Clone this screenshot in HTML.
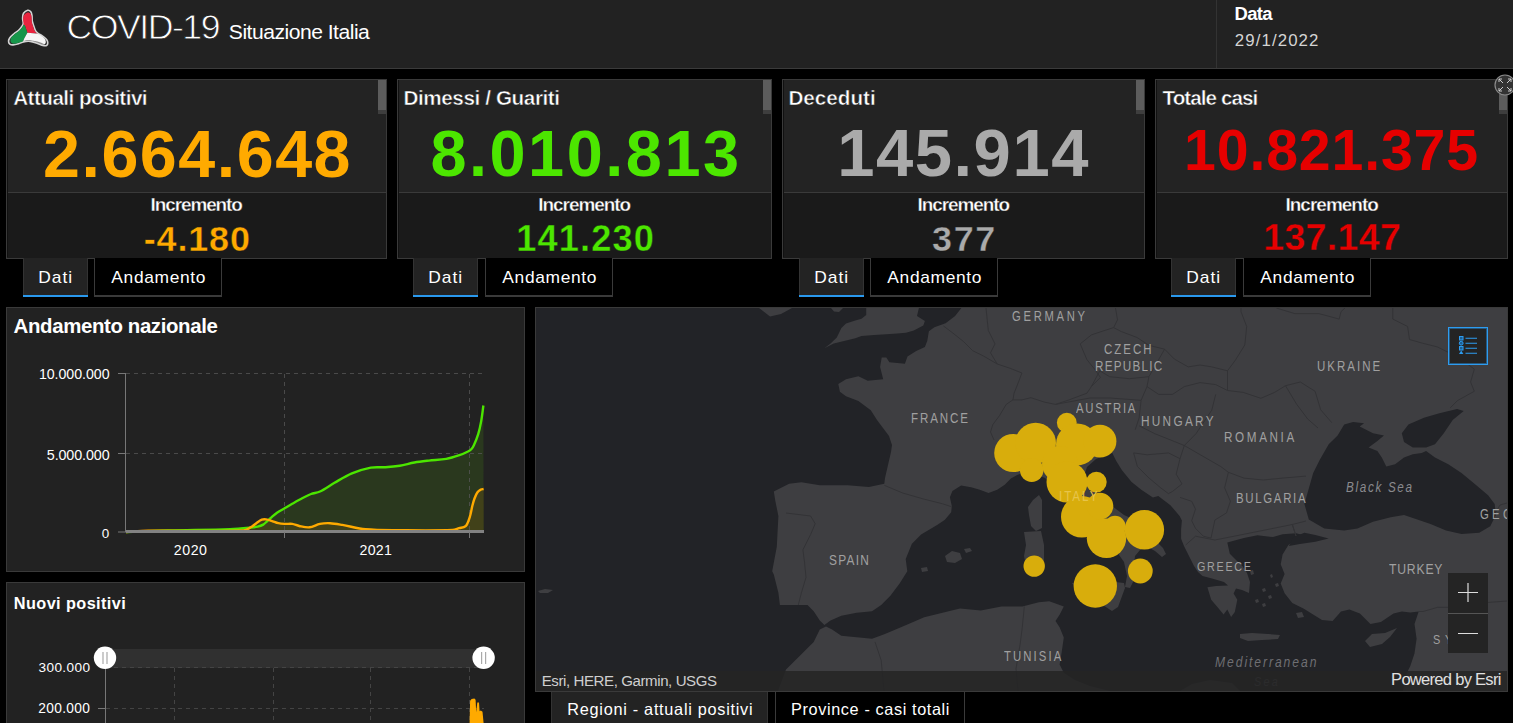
<!DOCTYPE html>
<html><head><meta charset="utf-8"><title>COVID-19 Situazione Italia</title>
<style>
html,body{margin:0;padding:0;background:#000;width:1513px;height:723px;overflow:hidden;font-family:"Liberation Sans",sans-serif}
.t{position:absolute;white-space:nowrap;font-family:"Liberation Sans",sans-serif}
svg{display:block}
</style></head><body>
<div style="position:absolute;left:0;top:0;width:1513px;height:68px;background:#222"></div>
<div style="position:absolute;left:0;top:68px;width:1513px;height:1px;background:#3b3b3b"></div>
<div style="position:absolute;left:1216px;top:0;width:1px;height:68px;background:#333"></div>
<svg style="position:absolute;left:0;top:0" width="60" height="60" viewBox="0 0 60 60">
<defs><clipPath id="lc"><path d="M27.70,10.30 C26.48,10.55 24.35,11.98 23.50,13.30 C22.65,14.62 22.65,16.48 22.60,18.20 C22.55,19.92 23.37,22.18 23.20,23.60 C23.03,25.02 22.37,25.58 21.60,26.70 C20.83,27.82 19.92,29.08 18.60,30.30 C17.28,31.52 15.22,32.68 13.70,34.00 C12.18,35.32 10.35,36.88 9.50,38.20 C8.65,39.52 8.50,40.88 8.60,41.90 C8.70,42.92 9.35,43.80 10.10,44.30 C10.85,44.80 11.68,45.00 13.10,44.90 C14.52,44.80 16.87,44.20 18.60,43.70 C20.33,43.20 21.88,42.30 23.50,41.90 C25.12,41.50 26.78,41.30 28.30,41.30 C29.82,41.30 30.97,41.50 32.60,41.90 C34.23,42.30 36.38,43.10 38.10,43.70 C39.82,44.30 41.48,45.20 42.90,45.50 C44.32,45.80 45.78,45.90 46.60,45.50 C47.42,45.10 47.80,44.10 47.80,43.10 C47.80,42.10 47.52,40.72 46.60,39.50 C45.68,38.28 43.72,36.82 42.30,35.80 C40.88,34.78 39.22,34.22 38.10,33.40 C36.98,32.58 36.32,32.12 35.60,30.90 C34.88,29.68 34.35,27.72 33.80,26.10 C33.25,24.48 32.60,22.93 32.30,21.20 C32.00,19.47 32.25,17.27 32.00,15.70 C31.75,14.13 31.52,12.70 30.80,11.80 C30.08,10.90 28.92,10.05 27.70,10.30Z" transform="translate(27.8,32) scale(0.9) translate(-27.8,-32)"/></clipPath></defs>
<path d="M27.70,10.30 C26.48,10.55 24.35,11.98 23.50,13.30 C22.65,14.62 22.65,16.48 22.60,18.20 C22.55,19.92 23.37,22.18 23.20,23.60 C23.03,25.02 22.37,25.58 21.60,26.70 C20.83,27.82 19.92,29.08 18.60,30.30 C17.28,31.52 15.22,32.68 13.70,34.00 C12.18,35.32 10.35,36.88 9.50,38.20 C8.65,39.52 8.50,40.88 8.60,41.90 C8.70,42.92 9.35,43.80 10.10,44.30 C10.85,44.80 11.68,45.00 13.10,44.90 C14.52,44.80 16.87,44.20 18.60,43.70 C20.33,43.20 21.88,42.30 23.50,41.90 C25.12,41.50 26.78,41.30 28.30,41.30 C29.82,41.30 30.97,41.50 32.60,41.90 C34.23,42.30 36.38,43.10 38.10,43.70 C39.82,44.30 41.48,45.20 42.90,45.50 C44.32,45.80 45.78,45.90 46.60,45.50 C47.42,45.10 47.80,44.10 47.80,43.10 C47.80,42.10 47.52,40.72 46.60,39.50 C45.68,38.28 43.72,36.82 42.30,35.80 C40.88,34.78 39.22,34.22 38.10,33.40 C36.98,32.58 36.32,32.12 35.60,30.90 C34.88,29.68 34.35,27.72 33.80,26.10 C33.25,24.48 32.60,22.93 32.30,21.20 C32.00,19.47 32.25,17.27 32.00,15.70 C31.75,14.13 31.52,12.70 30.80,11.80 C30.08,10.90 28.92,10.05 27.70,10.30Z" fill="#2b2b2b" stroke="#d4d4d4" stroke-width="1.6"/>
<g clip-path="url(#lc)">
<path d="M24.7,24.9 L27.4,32.8 L35.9,33.4 L50,33.4 L50,0 L0,0 L0,22 Z" fill="#e8243f"/>
<path d="M24.7,24.9 L27.4,32.8 L24.1,38.8 L20,50 L0,50 L0,22 Z" fill="#16964a"/>
<path d="M27.4,32.8 L35.9,33.4 L50,33.4 L50,50 L20,50 L24.1,38.8 Z" fill="#f6f6f6"/>
<path d="M29,40.2 C35,40.5 40,42 45,44.5 C40,44.5 35,42.5 29,41.5Z" fill="#8a8a8a"/>
</g>
</svg>
<div class="t" style="left:66.6px;top:5.9px;font-size:35.66px;line-height:43px;letter-spacing:-1.51px;font-weight:normal;color:#fff;-webkit-text-stroke:0.8px #222">COVID-19</div>
<div class="t" style="left:228.8px;top:19.2px;font-size:21.11px;line-height:25px;letter-spacing:-0.5px;font-weight:normal;font-style:normal;color:#fff;">Situazione Italia</div>
<div class="t" style="left:1234.5px;top:3.4px;font-size:18.46px;line-height:22px;letter-spacing:-0.66px;font-weight:bold;font-style:normal;color:#fff;">Data</div>
<div class="t" style="left:1234.7px;top:31.2px;font-size:16.84px;line-height:20px;letter-spacing:1.11px;font-weight:normal;font-style:normal;color:#d4d4d4;">29/1/2022</div>
<div style="position:absolute;left:6px;top:79px;width:379px;height:178px;border:1px solid #3a3a3a;background:#1a1a1a"></div>
<div style="position:absolute;left:7px;top:80px;width:379px;height:112px;background:#232323"></div>
<div style="position:absolute;left:6px;top:192px;width:381px;height:1px;background:#3a3a3a"></div>
<div style="position:absolute;left:7px;top:80px;width:1px;height:177px;background:#111"></div>
<div style="position:absolute;left:378px;top:80px;width:8px;height:30px;background:#5c5c5c"></div>
<div style="position:absolute;left:378px;top:110px;width:8px;height:4px;background:#3e3e3e"></div>
<div class="t" style="left:13.2px;top:85.4px;font-size:20.7px;line-height:25px;letter-spacing:-0.54px;font-weight:bold;color:#fff;-webkit-text-stroke:0.5px #232323">Attuali positivi</div>
<div class="t" style="left:43.0px;top:113.7px;font-size:66.45px;line-height:80px;letter-spacing:1.5px;font-weight:bold;font-style:normal;color:#ffaa00;">2.664.648</div>
<div class="t" style="left:150.6px;top:193.0px;font-size:18.97px;line-height:23px;letter-spacing:-1.1px;font-weight:bold;color:#fff;-webkit-text-stroke:0.35px #1a1a1a">Incremento</div>
<div class="t" style="left:143.8px;top:216.8px;font-size:35.95px;line-height:43px;letter-spacing:0.85px;font-weight:bold;color:#ffaa00;-webkit-text-stroke:0.4px #1a1a1a">-4.180</div>
<div style="position:absolute;left:23px;top:258px;width:63px;height:37px;background:#232323;border-left:1px solid #333;border-right:1px solid #333"></div>
<div style="position:absolute;left:23px;top:295px;width:65px;height:2px;background:#2a99ee"></div>
<div style="position:absolute;left:94px;top:258px;width:126px;height:37px;background:#000;border:1px solid #3a3a3a;border-top:0;border-bottom:2px solid #3a3a3a"></div>
<div class="t" style="left:38.3px;top:267.1px;font-size:17.39px;line-height:21px;letter-spacing:0.99px;font-weight:normal;font-style:normal;color:#fff;">Dati</div>
<div class="t" style="left:111.3px;top:267.1px;font-size:17.39px;line-height:21px;letter-spacing:0.67px;font-weight:normal;font-style:normal;color:#fff;">Andamento</div>
<div style="position:absolute;left:397px;top:79px;width:373px;height:178px;border:1px solid #3a3a3a;background:#1a1a1a"></div>
<div style="position:absolute;left:398px;top:80px;width:373px;height:112px;background:#232323"></div>
<div style="position:absolute;left:397px;top:192px;width:375px;height:1px;background:#3a3a3a"></div>
<div style="position:absolute;left:398px;top:80px;width:1px;height:177px;background:#111"></div>
<div style="position:absolute;left:763px;top:80px;width:8px;height:30px;background:#5c5c5c"></div>
<div style="position:absolute;left:763px;top:110px;width:8px;height:4px;background:#3e3e3e"></div>
<div class="t" style="left:403.4px;top:85.4px;font-size:20.7px;line-height:25px;letter-spacing:-0.41px;font-weight:bold;color:#fff;-webkit-text-stroke:0.5px #232323">Dimessi / Guariti</div>
<div class="t" style="left:430.4px;top:114.5px;font-size:64.88px;line-height:78px;letter-spacing:2.52px;font-weight:bold;font-style:normal;color:#4ce600;">8.010.813</div>
<div class="t" style="left:538.3px;top:193.0px;font-size:18.97px;line-height:23px;letter-spacing:-1.04px;font-weight:bold;color:#fff;-webkit-text-stroke:0.35px #1a1a1a">Incremento</div>
<div class="t" style="left:516.2px;top:216.7px;font-size:36.23px;line-height:43px;letter-spacing:1.13px;font-weight:bold;color:#4ce600;-webkit-text-stroke:0.4px #1a1a1a">141.230</div>
<div style="position:absolute;left:413px;top:258px;width:63px;height:37px;background:#232323;border-left:1px solid #333;border-right:1px solid #333"></div>
<div style="position:absolute;left:413px;top:295px;width:65px;height:2px;background:#2a99ee"></div>
<div style="position:absolute;left:485px;top:258px;width:126px;height:37px;background:#000;border:1px solid #3a3a3a;border-top:0;border-bottom:2px solid #3a3a3a"></div>
<div class="t" style="left:428.3px;top:267.1px;font-size:17.39px;line-height:21px;letter-spacing:0.99px;font-weight:normal;font-style:normal;color:#fff;">Dati</div>
<div class="t" style="left:502.3px;top:267.1px;font-size:17.39px;line-height:21px;letter-spacing:0.67px;font-weight:normal;font-style:normal;color:#fff;">Andamento</div>
<div style="position:absolute;left:782px;top:79px;width:361px;height:178px;border:1px solid #3a3a3a;background:#1a1a1a"></div>
<div style="position:absolute;left:783px;top:80px;width:361px;height:112px;background:#232323"></div>
<div style="position:absolute;left:782px;top:192px;width:363px;height:1px;background:#3a3a3a"></div>
<div style="position:absolute;left:783px;top:80px;width:1px;height:177px;background:#111"></div>
<div style="position:absolute;left:1136px;top:80px;width:8px;height:30px;background:#5c5c5c"></div>
<div style="position:absolute;left:1136px;top:110px;width:8px;height:4px;background:#3e3e3e"></div>
<div class="t" style="left:788.4px;top:85.4px;font-size:20.7px;line-height:25px;letter-spacing:0.0px;font-weight:bold;color:#fff;-webkit-text-stroke:0.5px #232323">Deceduti</div>
<div class="t" style="left:837.2px;top:113.4px;font-size:67.03px;line-height:80px;letter-spacing:1.5px;font-weight:bold;font-style:normal;color:#aaaaaa;">145.914</div>
<div class="t" style="left:917.6px;top:193.0px;font-size:18.97px;line-height:23px;letter-spacing:-1.08px;font-weight:bold;color:#fff;-webkit-text-stroke:0.35px #1a1a1a">Incremento</div>
<div class="t" style="left:932.1px;top:216.6px;font-size:35.95px;line-height:43px;letter-spacing:1.56px;font-weight:bold;color:#aaaaaa;-webkit-text-stroke:0.4px #1a1a1a">377</div>
<div style="position:absolute;left:799px;top:258px;width:63px;height:37px;background:#232323;border-left:1px solid #333;border-right:1px solid #333"></div>
<div style="position:absolute;left:799px;top:295px;width:65px;height:2px;background:#2a99ee"></div>
<div style="position:absolute;left:870px;top:258px;width:126px;height:37px;background:#000;border:1px solid #3a3a3a;border-top:0;border-bottom:2px solid #3a3a3a"></div>
<div class="t" style="left:814.3px;top:267.1px;font-size:17.39px;line-height:21px;letter-spacing:0.99px;font-weight:normal;font-style:normal;color:#fff;">Dati</div>
<div class="t" style="left:887.3px;top:267.1px;font-size:17.39px;line-height:21px;letter-spacing:0.67px;font-weight:normal;font-style:normal;color:#fff;">Andamento</div>
<div style="position:absolute;left:1155px;top:79px;width:351px;height:178px;border:1px solid #3a3a3a;background:#1a1a1a"></div>
<div style="position:absolute;left:1156px;top:80px;width:351px;height:112px;background:#232323"></div>
<div style="position:absolute;left:1155px;top:192px;width:353px;height:1px;background:#3a3a3a"></div>
<div style="position:absolute;left:1156px;top:80px;width:1px;height:177px;background:#111"></div>
<div style="position:absolute;left:1499px;top:80px;width:8px;height:30px;background:#5c5c5c"></div>
<div style="position:absolute;left:1499px;top:110px;width:8px;height:4px;background:#3e3e3e"></div>
<div class="t" style="left:1162.5px;top:85.4px;font-size:20.7px;line-height:25px;letter-spacing:-0.96px;font-weight:bold;color:#fff;-webkit-text-stroke:0.5px #232323">Totale casi</div>
<div class="t" style="left:1184.1px;top:115.6px;font-size:57.29px;line-height:69px;letter-spacing:0.81px;font-weight:bold;font-style:normal;color:#e60000;">10.821.375</div>
<div class="t" style="left:1285.4px;top:193.0px;font-size:18.97px;line-height:23px;letter-spacing:-0.96px;font-weight:bold;color:#fff;-webkit-text-stroke:0.35px #1a1a1a">Incremento</div>
<div class="t" style="left:1263.2px;top:215.4px;font-size:37.52px;line-height:45px;letter-spacing:0.33px;font-weight:bold;color:#e60000;-webkit-text-stroke:0.4px #1a1a1a">137.147</div>
<div style="position:absolute;left:1171px;top:258px;width:63px;height:37px;background:#232323;border-left:1px solid #333;border-right:1px solid #333"></div>
<div style="position:absolute;left:1171px;top:295px;width:65px;height:2px;background:#2a99ee"></div>
<div style="position:absolute;left:1243px;top:258px;width:126px;height:37px;background:#000;border:1px solid #3a3a3a;border-top:0;border-bottom:2px solid #3a3a3a"></div>
<div class="t" style="left:1186.3px;top:267.1px;font-size:17.39px;line-height:21px;letter-spacing:0.99px;font-weight:normal;font-style:normal;color:#fff;">Dati</div>
<div class="t" style="left:1260.3px;top:267.1px;font-size:17.39px;line-height:21px;letter-spacing:0.67px;font-weight:normal;font-style:normal;color:#fff;">Andamento</div>
<svg style="position:absolute;left:1494px;top:74px" width="22" height="22" viewBox="0 0 22 22">
<circle cx="11" cy="11" r="10" fill="#333" stroke="#8a8a8a" stroke-width="1.2"/>
<g stroke="#ccc" stroke-width="1" fill="none">
<path d="M5,5 L9,9 M5,5 L5,8 M5,5 L8,5"/>
<path d="M17,5 L13,9 M17,5 L17,8 M17,5 L14,5"/>
<path d="M5,17 L9,13 M5,17 L5,14 M5,17 L8,17"/>
<path d="M17,17 L13,13 M17,17 L17,14 M17,17 L14,17"/>
</g></svg>
<div style="position:absolute;left:6px;top:307px;width:517px;height:263px;border:1px solid #3a3a3a;background:#222"></div>
<div class="t" style="left:13.6px;top:314.2px;font-size:20.42px;line-height:25px;letter-spacing:-0.37px;font-weight:bold;font-style:normal;color:#fff;">Andamento nazionale</div>
<div class="t" style="left:38.9px;top:366.0px;font-size:14.18px;line-height:17px;letter-spacing:-0.03px;font-weight:normal;font-style:normal;color:#ffffff;">10.000.000</div>
<div class="t" style="left:46.8px;top:446.5px;font-size:14.32px;line-height:17px;letter-spacing:-0.11px;font-weight:normal;font-style:normal;color:#ffffff;">5.000.000</div>
<div class="t" style="left:101.7px;top:525.9px;font-size:13.46px;line-height:16px;letter-spacing:0px;font-weight:normal;font-style:normal;color:#ffffff;">0</div>
<div class="t" style="left:173.8px;top:541.7px;font-size:14.18px;line-height:17px;letter-spacing:0.54px;font-weight:normal;font-style:normal;color:#ffffff;">2020</div>
<div class="t" style="left:359.6px;top:541.7px;font-size:14.18px;line-height:17px;letter-spacing:0.22px;font-weight:normal;font-style:normal;color:#ffffff;">2021</div>
<svg style="position:absolute;left:0;top:0" width="530" height="723" viewBox="0 0 530 723">
<path d="M126.00,532.00 C140.00,531.50 154.00,530.89 168.00,530.50 C188.67,529.92 209.33,529.81 230.00,529.10 C236.67,528.87 243.33,528.28 250.00,527.70 C252.57,527.48 255.13,527.30 257.70,526.70 C259.53,526.27 261.37,525.67 263.20,524.60 C264.57,523.80 265.93,522.30 267.30,521.10 C268.70,519.87 270.10,518.50 271.50,517.30 C273.33,515.73 275.17,514.07 277.00,512.80 C279.30,511.20 281.60,510.06 283.90,508.70 C286.67,507.06 289.43,505.38 292.20,503.80 C295.67,501.82 299.13,499.81 302.60,498.00 C305.40,496.54 308.20,495.05 311.00,494.00 C314.00,492.88 317.00,492.93 320.00,491.50 C324.83,489.20 329.67,485.54 334.50,482.80 C340.30,479.51 346.10,475.83 351.90,473.40 C358.20,470.76 364.50,468.77 370.80,467.60 C375.63,466.70 380.47,467.52 385.30,467.20 C390.13,466.88 394.97,466.48 399.80,465.70 C404.67,464.91 409.53,463.35 414.40,462.50 C419.23,461.65 424.07,461.15 428.90,460.60 C434.70,459.95 440.50,459.93 446.30,458.90 C450.67,458.13 455.03,456.69 459.40,455.20 C462.27,454.22 465.13,452.97 468.00,451.50 C469.17,450.90 470.33,450.26 471.50,449.00 C472.33,448.10 473.17,446.84 474.00,445.00 C475.40,441.91 476.80,438.85 478.20,434.20 C479.20,430.88 480.20,426.62 481.20,421.10 C481.93,417.05 482.67,410.70 483.40,405.50 L483.6,532 L126,532 Z" fill="#2b3a1f" fill-opacity="0.95"/>
<path d="M126.00,532.00 C133.23,531.60 140.47,530.89 147.70,530.80 C179.73,530.39 211.77,531.59 243.80,530.50 C246.10,530.42 248.40,528.64 250.70,527.30 C252.57,526.21 254.43,524.48 256.30,523.20 C258.13,521.94 259.97,520.42 261.80,519.70 C263.20,519.15 264.60,519.24 266.00,519.40 C267.83,519.61 269.67,520.24 271.50,520.80 C273.80,521.50 276.10,522.68 278.40,523.20 C280.70,523.72 283.00,523.78 285.30,523.90 C287.60,524.02 289.90,523.55 292.20,523.90 C294.53,524.25 296.87,525.54 299.20,526.00 C302.63,526.67 306.07,527.65 309.50,527.30 C312.97,526.95 316.43,524.59 319.90,523.90 C323.27,523.23 326.63,523.05 330.00,523.20 C334.10,523.38 338.20,524.20 342.30,524.90 C350.03,526.23 357.77,528.59 365.50,529.30 C377.13,530.36 388.77,530.11 400.40,530.20 C417.80,530.34 435.20,530.59 452.60,530.00 C454.73,529.93 456.87,528.85 459.00,528.20 C461.27,527.51 463.53,527.85 465.80,526.00 C466.77,525.21 467.73,522.72 468.70,520.30 C469.33,518.72 469.97,516.52 470.60,514.00 C471.17,511.75 471.73,508.25 472.30,506.00 C473.03,503.09 473.77,500.43 474.50,498.50 C475.50,495.87 476.50,493.68 477.50,492.30 C478.67,490.68 479.83,490.13 481.00,489.50 C481.87,489.03 482.73,489.17 483.60,489.00 L483.6,532 L126,532 Z" fill="#4a4418" fill-opacity="0.75"/>
<g stroke="#555" stroke-opacity="0.8" stroke-width="1" stroke-dasharray="4,4" fill="none">
<path d="M126,373.5 H484 M126,453.5 H484 M284.5,374 V530 M469.5,374 V530"/>
</g>
<path d="M126.00,532.00 C140.00,531.50 154.00,530.89 168.00,530.50 C188.67,529.92 209.33,529.81 230.00,529.10 C236.67,528.87 243.33,528.28 250.00,527.70 C252.57,527.48 255.13,527.30 257.70,526.70 C259.53,526.27 261.37,525.67 263.20,524.60 C264.57,523.80 265.93,522.30 267.30,521.10 C268.70,519.87 270.10,518.50 271.50,517.30 C273.33,515.73 275.17,514.07 277.00,512.80 C279.30,511.20 281.60,510.06 283.90,508.70 C286.67,507.06 289.43,505.38 292.20,503.80 C295.67,501.82 299.13,499.81 302.60,498.00 C305.40,496.54 308.20,495.05 311.00,494.00 C314.00,492.88 317.00,492.93 320.00,491.50 C324.83,489.20 329.67,485.54 334.50,482.80 C340.30,479.51 346.10,475.83 351.90,473.40 C358.20,470.76 364.50,468.77 370.80,467.60 C375.63,466.70 380.47,467.52 385.30,467.20 C390.13,466.88 394.97,466.48 399.80,465.70 C404.67,464.91 409.53,463.35 414.40,462.50 C419.23,461.65 424.07,461.15 428.90,460.60 C434.70,459.95 440.50,459.93 446.30,458.90 C450.67,458.13 455.03,456.69 459.40,455.20 C462.27,454.22 465.13,452.97 468.00,451.50 C469.17,450.90 470.33,450.26 471.50,449.00 C472.33,448.10 473.17,446.84 474.00,445.00 C475.40,441.91 476.80,438.85 478.20,434.20 C479.20,430.88 480.20,426.62 481.20,421.10 C481.93,417.05 482.67,410.70 483.40,405.50" stroke="#4ce600" stroke-width="2.4" fill="none"/>
<path d="M126.00,532.00 C133.23,531.60 140.47,530.89 147.70,530.80 C179.73,530.39 211.77,531.59 243.80,530.50 C246.10,530.42 248.40,528.64 250.70,527.30 C252.57,526.21 254.43,524.48 256.30,523.20 C258.13,521.94 259.97,520.42 261.80,519.70 C263.20,519.15 264.60,519.24 266.00,519.40 C267.83,519.61 269.67,520.24 271.50,520.80 C273.80,521.50 276.10,522.68 278.40,523.20 C280.70,523.72 283.00,523.78 285.30,523.90 C287.60,524.02 289.90,523.55 292.20,523.90 C294.53,524.25 296.87,525.54 299.20,526.00 C302.63,526.67 306.07,527.65 309.50,527.30 C312.97,526.95 316.43,524.59 319.90,523.90 C323.27,523.23 326.63,523.05 330.00,523.20 C334.10,523.38 338.20,524.20 342.30,524.90 C350.03,526.23 357.77,528.59 365.50,529.30 C377.13,530.36 388.77,530.11 400.40,530.20 C417.80,530.34 435.20,530.59 452.60,530.00 C454.73,529.93 456.87,528.85 459.00,528.20 C461.27,527.51 463.53,527.85 465.80,526.00 C466.77,525.21 467.73,522.72 468.70,520.30 C469.33,518.72 469.97,516.52 470.60,514.00 C471.17,511.75 471.73,508.25 472.30,506.00 C473.03,503.09 473.77,500.43 474.50,498.50 C475.50,495.87 476.50,493.68 477.50,492.30 C478.67,490.68 479.83,490.13 481.00,489.50 C481.87,489.03 482.73,489.17 483.60,489.00" stroke="#ffaa00" stroke-width="2.4" fill="none"/>
<path d="M126,531.6 H484" stroke="#828282" stroke-width="3"/>
<g stroke="#777" stroke-width="1" fill="none">
<path d="M125.5,373 V532.5 M118,373.5 H125 M118,453.5 H125 M118,532 H125 M284.5,532 V538 M469.5,532 V538"/>
</g>
</svg>
<div style="position:absolute;left:6px;top:582px;width:517px;height:150px;border:1px solid #3a3a3a;background:#222"></div>
<div class="t" style="left:13.8px;top:593.1px;font-size:16.28px;line-height:20px;letter-spacing:0.41px;font-weight:bold;font-style:normal;color:#fff;">Nuovi positivi</div>
<div class="t" style="left:38.5px;top:660.0px;font-size:13.61px;line-height:16px;letter-spacing:0.38px;font-weight:normal;font-style:normal;color:#ffffff;">300.000</div>
<div class="t" style="left:38.3px;top:700.8px;font-size:13.75px;line-height:16px;letter-spacing:0.32px;font-weight:normal;font-style:normal;color:#ffffff;">200.000</div>
<svg style="position:absolute;left:0;top:0" width="530" height="723" viewBox="0 0 530 723">
<rect x="105" y="649" width="378.5" height="19" fill="#303030"/>
<g stroke="#444" stroke-width="1" stroke-dasharray="4,4" fill="none">
<path d="M106,667.5 H484 M106,708.5 H484 M174.5,668 V723 M273.5,668 V723 M370.5,668 V723 M469.5,668 V723"/>
</g>
<path d="M469.6,723 L470.1,700.8 L471.6,699.1 L474.4,698.5 L475.6,699.7 L476.2,712.3 L477.3,702.6 L479,702.6 L479.6,711.2 L480.8,710.6 L482.5,711.7 L483.6,723 Z" fill="#ffaa00"/>
<g stroke="#777" stroke-width="1" fill="none"><path d="M105.5,668 V723 M98,708.5 H105"/></g>
<circle cx="105" cy="657.8" r="11.2" fill="#fff"/>
<circle cx="483.6" cy="657.8" r="11.2" fill="#fff"/>
<g stroke="#aaa" stroke-width="1.2"><path d="M103,652 V664 M107,652 V664 M481.6,652 V664 M485.6,652 V664"/></g>
</svg>
<div style="position:absolute;left:535px;top:307px;width:971px;height:383px;border:1px solid #3a3a3a"></div>
<div style="position:absolute;left:536px;top:308px;width:971px;height:383px;overflow:hidden">
<div style="position:absolute;left:-536px;top:-308px;width:1513px;height:723px">
<svg style="position:absolute;left:536px;top:308px" width="972" height="383" viewBox="536 308 972 383">
<rect x="536" y="308" width="972" height="383" fill="#222327"/>
<path fill="#3e3e41" d="M759.0,308.0 L770.0,316.5 L781.0,314.0 L792.0,308.0 Z M831.0,308.0 L834.0,311.5 L839.0,312.0 L843.0,308.0 Z M866.2,308.0 L918.9,308.0 L917.0,316.1 L924.9,320.9 L923.3,325.6 L913.8,330.4 L905.9,332.8 L897.2,333.6 L886.3,334.3 L873.9,335.1 L861.5,335.9 L855.3,338.2 L843.0,341.3 L833.7,343.6 L824.4,348.3 L830.6,343.6 L836.8,337.4 L841.4,328.1 L846.0,323.5 L855.3,320.4 L861.5,318.8 L866.2,315.0 Z M961.4,308.0 L1507.0,308.0 L1507.0,691.0 L1403.0,691.0 L1406.1,674.5 L1410.3,666.1 L1414.5,653.5 L1416.6,638.8 L1414.5,624.1 L1418.7,611.5 L1410.3,612.5 L1401.9,611.5 L1393.5,613.6 L1380.9,622.0 L1370.4,624.1 L1359.9,613.6 L1349.4,609.4 L1341.0,611.5 L1332.6,620.9 L1322.0,619.9 L1311.5,613.6 L1303.9,608.8 L1292.3,603.0 L1284.6,593.3 L1280.7,583.6 L1284.6,573.9 L1280.7,564.2 L1282.6,554.5 L1288.4,544.9 L1296.2,539.0 L1303.9,535.2 L1296.2,533.2 L1282.6,534.2 L1273.0,537.1 L1257.5,535.2 L1243.9,538.1 L1227.3,542.5 L1229.8,553.7 L1236.0,559.9 L1242.3,566.1 L1247.0,573.0 L1250.0,582.0 L1249.0,593.0 L1242.0,590.0 L1236.0,588.5 L1233.6,593.5 L1237.3,599.7 L1234.8,612.1 L1231.1,617.1 L1227.3,609.6 L1223.6,614.6 L1217.4,607.1 L1211.2,599.7 L1207.4,587.2 L1216.0,586.0 L1228.0,585.5 L1224.0,582.0 L1212.0,578.5 L1202.5,576.0 L1198.0,572.0 L1194.0,566.0 L1190.5,559.0 L1187.0,552.0 L1184.0,546.0 L1181.1,538.7 L1181.1,529.6 L1181.9,520.4 L1179.6,515.9 L1170.4,505.2 L1158.3,496.1 L1152.9,497.4 L1141.3,489.7 L1131.6,482.0 L1122.0,470.3 L1116.1,460.7 L1112.3,452.9 L1106.0,455.0 L1096.0,459.0 L1087.0,467.0 L1084.0,476.0 L1088.0,486.0 L1098.0,494.0 L1108.0,503.0 L1124.0,515.0 L1133.0,519.0 L1136.0,525.0 L1146.0,533.0 L1156.0,541.0 L1163.0,548.0 L1166.0,554.0 L1162.0,557.0 L1155.0,551.0 L1146.0,546.0 L1140.0,550.0 L1135.0,556.0 L1134.0,566.0 L1135.0,578.0 L1130.0,588.0 L1125.0,587.0 L1127.0,576.0 L1124.0,562.0 L1117.0,552.0 L1108.0,543.0 L1095.0,533.0 L1083.0,522.0 L1072.0,510.0 L1062.0,498.0 L1055.0,487.0 L1045.0,478.0 L1035.0,474.0 L1025.0,472.0 L1017.1,474.9 L1010.9,478.6 L1004.7,484.8 L997.2,489.8 L988.5,492.9 L979.8,489.8 L971.1,487.3 L961.1,485.5 L952.4,491.1 L949.9,497.3 L951.8,506.0 L951.2,512.2 L944.9,519.7 L937.5,524.7 L921.1,534.5 L911.9,543.7 L905.7,559.0 L907.3,571.3 L899.6,583.6 L890.4,595.8 L881.2,605.0 L872.0,611.2 L856.6,612.7 L841.3,615.8 L830.5,620.4 L824.4,625.0 L819.8,620.4 L813.7,611.2 L807.5,605.0 L795.2,605.0 L779.9,605.0 L778.4,592.8 L773.8,574.4 L772.2,571.3 L776.8,546.7 L778.4,516.0 L775.3,500.7 L773.8,491.5 L789.1,483.8 L801.4,482.3 L819.8,485.3 L847.4,485.3 L868.9,486.9 L884.3,483.8 L885.0,478.0 L888.0,465.0 L891.0,452.0 L892.0,445.0 L889.0,436.0 L883.0,428.0 L877.0,420.0 L870.8,410.2 L858.4,401.0 L846.0,396.3 L839.9,391.7 L838.3,383.9 L846.0,379.3 L858.4,376.2 L867.7,380.8 L883.2,379.3 L880.1,366.9 L881.7,357.6 L886.3,357.6 L889.4,362.2 L904.9,363.8 L907.5,356.6 L916.2,351.0 L924.9,347.1 L927.3,340.7 L928.9,331.2 L934.4,327.2 L945.6,323.3 L955.1,316.1 Z M778.0,691.0 L786.0,669.5 L801.4,654.2 L813.7,641.9 L819.8,629.6 L826.0,626.5 L832.1,629.6 L841.3,635.7 L856.6,637.3 L872.0,638.8 L884.3,634.2 L902.7,626.5 L924.2,617.3 L948.7,611.2 L960.0,608.5 L980.8,610.6 L1001.5,606.4 L1022.3,606.4 L1038.9,602.3 L1049.2,601.2 L1057.6,604.3 L1063.8,606.4 L1059.6,614.7 L1055.5,620.9 L1059.6,627.2 L1063.8,637.5 L1061.7,652.1 L1059.6,664.5 L1063.8,672.8 L1075.0,680.0 L1090.0,686.0 L1110.0,691.0 Z M1180.0,691.0 L1192.0,684.0 L1210.0,680.0 L1232.0,683.0 L1240.0,691.0 Z M1039.0,495.0 L1042.0,500.0 L1042.0,528.0 L1036.0,531.0 L1031.0,526.0 L1029.0,515.0 L1028.0,507.0 L1033.0,500.0 Z M1024.0,532.0 L1041.0,531.0 L1044.0,545.0 L1044.0,560.0 L1038.0,572.0 L1027.0,571.0 L1024.0,556.0 L1026.0,545.0 Z M1072.0,583.0 L1098.0,580.0 L1124.0,583.0 L1125.0,588.0 L1118.0,607.0 L1112.0,611.0 L1095.0,600.0 L1078.0,592.0 Z M945.0,556.0 L952.0,551.0 L960.0,553.0 L962.0,559.0 L955.0,563.0 L947.0,562.0 Z M964.0,549.0 L970.0,548.0 L972.0,551.0 L966.0,553.0 Z M921.0,568.0 L927.0,567.0 L928.0,571.0 L922.0,572.0 Z M1240.0,634.0 L1252.0,633.0 L1268.0,634.0 L1280.0,635.0 L1278.0,639.0 L1262.0,640.0 L1248.0,641.0 L1240.0,638.0 Z M1365.0,641.0 L1372.0,634.0 L1385.0,633.0 L1397.0,628.0 L1390.0,637.0 L1382.0,644.0 L1370.0,647.0 Z M538.0,591.0 L545.0,589.0 L553.0,590.0 L548.0,593.0 L540.0,593.0 Z M1297.0,537.0 L1303.0,534.5 L1308.0,537.0 L1304.0,542.0 L1298.0,542.0 Z M1285.0,559.0 L1289.0,558.0 L1290.0,564.0 L1286.0,566.0 Z M1262.0,589.0 L1265.0,588.0 L1266.0,591.0 L1263.0,592.0 Z M1268.0,596.0 L1271.0,595.0 L1272.0,598.0 L1269.0,599.0 Z M1255.0,600.0 L1258.0,599.0 L1259.0,602.0 L1256.0,603.0 Z M1275.0,584.0 L1278.0,583.0 L1279.0,586.0 L1276.0,587.0 Z M1262.0,604.0 L1265.0,603.0 L1266.0,606.0 L1263.0,607.0 Z M1296.0,613.0 L1302.0,612.0 L1304.0,617.0 L1298.0,618.0 Z M1250.0,571.0 L1253.0,570.0 L1254.0,574.0 L1251.0,575.0 Z M1270.0,575.0 L1272.0,574.0 L1273.0,577.0 L1271.0,578.0 Z"/>
<path fill="#222327" d="M1344.2,424.4 L1353.1,422.1 L1364.1,423.2 L1359.7,426.6 L1373.0,433.2 L1384.0,435.4 L1377.4,441.0 L1368.6,447.6 L1377.4,450.9 L1381.8,457.6 L1386.3,466.4 L1395.1,464.2 L1404.0,457.6 L1412.8,454.2 L1421.7,453.1 L1426.1,450.9 L1435.0,457.6 L1448.3,464.2 L1461.5,473.1 L1474.8,484.1 L1488.1,495.2 L1494.7,504.0 L1495.8,515.1 L1490.3,526.2 L1479.2,532.8 L1461.5,533.9 L1446.0,530.6 L1430.5,524.0 L1417.3,519.5 L1404.0,515.1 L1390.7,517.3 L1373.0,521.8 L1357.5,528.4 L1344.2,530.6 L1324.3,528.4 L1308.8,519.5 L1304.4,504.0 L1308.8,488.6 L1313.2,473.1 L1319.8,459.8 L1328.7,444.3 L1337.6,435.4 Z M1401.8,433.2 L1408.4,424.4 L1423.9,417.7 L1439.4,413.3 L1457.1,408.9 L1463.7,411.1 L1452.7,419.9 L1443.8,433.2 L1435.0,444.3 L1426.1,447.6 L1412.8,447.6 L1404.0,442.1 Z M1293.3,537.3 L1304.4,532.8 L1315.4,535.0 L1328.7,538.4 L1315.4,541.7 L1299.9,543.9 L1288.9,546.1 Z"/>
<path fill="none" stroke="#333336" stroke-width="1" stroke-linejoin="round" d="M943.4,325.9 L952.4,332.7 L963.6,341.6 L972.6,350.6 L983.8,356.2 L997.2,364.0 L1010.7,368.5 L1021.9,373.0 L1018.5,382.0 L1014.1,393.2 L1012.9,399.9 L1006.2,404.4 L999.5,415.6 L992.8,424.6 L990.5,432.0 L994.0,440.0 M986.0,308.0 L988.3,330.4 L995.0,343.9 L990.5,352.8 L997.2,364.0 M1012.9,399.9 L1021.9,399.9 L1030.9,397.7 L1044.3,402.1 L1055.5,404.4 L1069.0,399.9 L1086.9,393.2 L1091.4,386.5 L1100.4,377.5 L1095.9,370.8 L1086.9,359.6 L1080.2,343.9 L1091.4,334.9 L1104.9,330.4 L1113.6,327.6 M1115.5,308.0 L1117.5,319.8 L1113.6,327.6 L1121.4,331.6 L1137.1,337.5 L1148.9,345.3 L1164.6,349.2 L1174.4,359.1 L1188.2,366.9 L1200.0,365.0 L1211.8,366.9 L1227.5,370.8 L1235.6,359.8 L1244.8,345.0 L1246.7,326.5 L1241.0,311.7 L1241.0,308.0 M1091.4,386.5 L1099.8,370.8 L1109.6,376.7 L1129.3,378.7 L1148.9,376.7 L1164.6,349.2 M1148.9,376.7 L1147.0,386.6 L1158.7,394.4 L1172.5,394.4 L1184.3,386.6 L1200.0,382.6 L1215.7,384.6 L1227.5,390.5 L1227.5,370.8 M1055.5,404.4 L1090.0,398.0 L1110.0,398.0 L1141.1,400.3 L1139.1,418.0 L1135.2,429.8 M1147.0,386.6 L1141.1,400.3 M1227.5,390.5 L1243.2,392.4 L1260.9,398.3 L1274.6,392.4 L1285.5,385.7 L1300.3,382.0 L1315.1,391.3 L1320.7,409.8 L1331.8,422.7 M1285.5,385.7 L1296.6,404.2 L1307.7,419.0 L1318.0,428.0 M1215.7,394.4 L1211.8,410.1 L1203.9,421.9 L1196.0,433.7 L1184.3,445.5 L1174.4,441.5 L1154.8,433.7 L1139.1,425.8 M1276.3,308.0 L1294.8,313.6 L1318.8,313.6 L1339.2,319.1 L1341.0,311.7 L1345.0,308.0 M1392.8,308.0 L1392.8,319.1 L1407.6,326.5 L1409.5,339.5 L1422.5,343.2 L1437.3,346.9 L1448.4,352.4 L1462.0,360.0 L1474.3,369.1 L1470.6,382.0 L1474.3,391.3 L1457.6,400.5 L1450.2,407.9 M1133.6,452.9 L1147.1,454.8 L1168.4,452.9 L1180.0,458.7 L1184.3,445.5 M1133.6,452.9 L1137.4,466.5 L1149.1,478.1 L1160.7,487.8 L1168.4,493.6 M1180.0,458.7 L1176.2,474.2 L1182.0,483.9 L1172.3,491.6 L1168.4,493.6 M1184.3,445.5 L1207.1,458.7 L1220.7,466.5 L1228.4,472.3 L1224.6,487.8 L1230.4,501.3 L1226.5,512.9 L1214.9,520.0 L1211.0,538.1 M1180.0,497.4 L1191.7,501.3 L1195.5,509.1 L1191.7,520.7 L1195.5,528.4 L1203.3,536.2 L1211.0,538.1 M1185.7,545.0 L1195.5,536.2 L1214.9,540.0 L1234.2,536.2 L1253.6,532.3 L1273.0,528.4 L1292.3,524.5 L1296.0,536.0 M1228.4,472.3 L1243.9,478.1 L1263.3,480.0 L1282.6,478.1 L1306.0,476.1 M1296.0,536.0 L1292.3,524.5 L1306.0,521.0 M786.0,513.0 L810.6,516.0 L815.2,523.7 L810.6,534.5 L802.9,549.8 L804.5,562.1 L806.0,577.4 L801.4,592.8 L798.3,605.0 M884.3,485.3 L902.7,493.0 L924.2,499.2 L942.6,503.8 L951.8,506.8 M875.0,641.9 L881.2,660.3 L884.0,691.0 M1024.3,606.4 L1022.3,627.2 L1020.2,643.8 L1016.0,668.7 L1018.0,691.0 M1418.7,611.5 L1423.0,611.5 L1437.7,607.3 L1458.7,607.3 L1479.7,603.1 L1507.0,601.0 M1496.0,512.0 L1500.0,505.0 L1507.0,503.0"/>
<g fill="#d8ad0c"><circle cx="1013.3" cy="453" r="19.1"/><circle cx="1035.6" cy="443.1" r="20.4"/><circle cx="1066.8" cy="422.7" r="9.9"/><circle cx="1077" cy="444.4" r="21"/><circle cx="1100" cy="441.2" r="16.4"/><circle cx="1031.7" cy="470.1" r="11.8"/><circle cx="1060" cy="464" r="18"/><circle cx="1096.4" cy="482.1" r="10.3"/><circle cx="1067" cy="482" r="20.5"/><circle cx="1081.8" cy="516.8" r="20.8"/><circle cx="1100" cy="506.1" r="13.3"/><circle cx="1115" cy="526.5" r="10.7"/><circle cx="1106.5" cy="538.2" r="19.7"/><circle cx="1144.4" cy="529.7" r="19.7"/><circle cx="1140.3" cy="571" r="12.4"/><circle cx="1034.2" cy="566.1" r="10.7"/><circle cx="1095.3" cy="586" r="21.7"/></g>
</svg>
<div class="t" style="left:1011.8px;top:307.7px;font-size:14.04px;line-height:17px;letter-spacing:3.38px;font-style:normal;color:#a0a0a0;transform:scaleX(0.8);transform-origin:0 0">GERMANY</div>
<div class="t" style="left:1104.3px;top:341.3px;font-size:14.32px;line-height:17px;letter-spacing:2.55px;font-style:normal;color:#a0a0a0;transform:scaleX(0.8);transform-origin:0 0">CZECH</div>
<div class="t" style="left:1094.9px;top:357.0px;font-size:14.61px;line-height:18px;letter-spacing:1.58px;font-style:normal;color:#a0a0a0;transform:scaleX(0.8);transform-origin:0 0">REPUBLIC</div>
<div class="t" style="left:1316.7px;top:357.5px;font-size:14.39px;line-height:17px;letter-spacing:2.52px;font-style:normal;color:#a0a0a0;transform:scaleX(0.8);transform-origin:0 0">UKRAINE</div>
<div class="t" style="left:911.3px;top:410.3px;font-size:14.46px;line-height:17px;letter-spacing:2.34px;font-style:normal;color:#a0a0a0;transform:scaleX(0.8);transform-origin:0 0">FRANCE</div>
<div class="t" style="left:1076.0px;top:400.3px;font-size:14.18px;line-height:17px;letter-spacing:2.12px;font-style:normal;color:#a0a0a0;transform:scaleX(0.8);transform-origin:0 0">AUSTRIA</div>
<div class="t" style="left:1141.1px;top:412.2px;font-size:14.75px;line-height:18px;letter-spacing:2.86px;font-style:normal;color:#a0a0a0;transform:scaleX(0.8);transform-origin:0 0">HUNGARY</div>
<div class="t" style="left:1223.6px;top:428.4px;font-size:14.61px;line-height:18px;letter-spacing:3.28px;font-style:normal;color:#a0a0a0;transform:scaleX(0.8);transform-origin:0 0">ROMANIA</div>
<div class="t" style="left:1235.5px;top:490.3px;font-size:14.32px;line-height:17px;letter-spacing:2.08px;font-style:normal;color:#a0a0a0;transform:scaleX(0.8);transform-origin:0 0">BULGARIA</div>
<div class="t" style="left:828.5px;top:550.9px;font-size:14.89px;line-height:18px;letter-spacing:1.58px;font-style:normal;color:#a0a0a0;transform:scaleX(0.8);transform-origin:0 0">SPAIN</div>
<div class="t" style="left:1197.1px;top:558.6px;font-size:13.46px;line-height:16px;letter-spacing:2.11px;font-style:normal;color:#a0a0a0;transform:scaleX(0.8);transform-origin:0 0">GREECE</div>
<div class="t" style="left:1389.0px;top:559.7px;font-size:15.26px;line-height:18px;letter-spacing:1.00px;font-style:normal;color:#a0a0a0;transform:scaleX(0.8);transform-origin:0 0">TURKEY</div>
<div class="t" style="left:1004.3px;top:648.0px;font-size:14.18px;line-height:17px;letter-spacing:2.63px;font-style:normal;color:#a0a0a0;transform:scaleX(0.8);transform-origin:0 0">TUNISIA</div>
<div class="t" style="left:1480.4px;top:506.1px;font-size:14.18px;line-height:17px;letter-spacing:4.09px;font-style:normal;color:#a0a0a0;transform:scaleX(0.8);transform-origin:0 0">GEORGIA</div>
<div class="t" style="left:1433.0px;top:632.4px;font-size:13.61px;line-height:16px;letter-spacing:5.89px;font-style:normal;color:#a0a0a0;transform:scaleX(0.8);transform-origin:0 0">SY</div>
<div class="t" style="left:1058.6px;top:487.8px;font-size:14.54px;line-height:17px;letter-spacing:2.44px;font-style:normal;color:#e7c44a;transform:scaleX(0.8);transform-origin:0 0">ITALY</div>
<div class="t" style="left:1346.0px;top:478.4px;font-size:14.63px;line-height:18px;letter-spacing:2.09px;font-style:italic;color:#8a8a8e;transform:scaleX(0.8);transform-origin:0 0">Black Sea</div>
<div class="t" style="left:1214.8px;top:652.7px;font-size:15.18px;line-height:18px;letter-spacing:2.41px;font-style:italic;color:#6f6f73;transform:scaleX(0.8);transform-origin:0 0">Mediterranean</div>
<div class="t" style="left:1254.2px;top:674.3px;font-size:13.46px;line-height:16px;letter-spacing:2.88px;font-style:italic;color:#55555a;transform:scaleX(0.8);transform-origin:0 0">Sea</div>
</div></div>
<div style="position:absolute;left:536px;top:671px;width:971px;height:20px;background:rgba(36,36,36,0.85)"></div>
<div class="t" style="left:541.7px;top:671.5px;font-size:15.04px;line-height:18px;letter-spacing:-0.4px;font-weight:normal;font-style:normal;color:#cfcfcf;">Esri, HERE, Garmin, USGS</div>
<div class="t" style="left:1391.1px;top:670.4px;font-size:16.56px;line-height:20px;letter-spacing:-0.73px;font-weight:normal;font-style:normal;color:#e0e0e0;">Powered by Esri</div>
<div style="position:absolute;left:1448px;top:327px;width:38px;height:36px;border:1px solid #2d9cf0;box-shadow:inset 0 0 0 1px rgba(45,156,240,0.45);background:#242424"></div>
<svg style="position:absolute;left:1448px;top:327px" width="40" height="38" viewBox="0 0 40 38">
<g fill="#1d5f93" stroke="#2d9cf0" stroke-width="1"><rect x="11.5" y="9.5" width="3.5" height="3.5"/><circle cx="13.2" cy="16.2" r="1.9"/><rect x="11.5" y="19.5" width="3.5" height="3.5"/></g>
<path d="M11,27 L13.2,23.5 L15.4,27 Z" fill="#2d9cf0"/>
<g stroke="#2d9cf0" stroke-width="1.1"><path d="M17.5,11.2 H29 M17.5,16.2 H29 M17.5,21.2 H29 M17.5,26.2 H29"/></g>
</svg>
<div style="position:absolute;left:1448px;top:573px;width:40px;height:80px;background:#242424"></div>
<div style="position:absolute;left:1448px;top:613px;width:40px;height:1px;background:#555"></div>
<svg style="position:absolute;left:1448px;top:573px" width="40" height="80" viewBox="0 0 40 80">
<g stroke="#ddd" stroke-width="1.2"><path d="M10,19.5 H30 M20,10 V29 M10,60.5 H30"/></g></svg>
<div style="position:absolute;left:551px;top:692px;width:215px;height:31px;background:#232323;border-left:1px solid #333;border-right:1px solid #333"></div>
<div style="position:absolute;left:775px;top:692px;width:188px;height:31px;background:#000;border-left:1px solid #3a3a3a;border-right:1px solid #3a3a3a"></div>
<div class="t" style="left:567.3px;top:699.2px;font-size:16.28px;line-height:20px;letter-spacing:0.72px;font-weight:normal;font-style:normal;color:#fff;">Regioni - attuali positivi</div>
<div class="t" style="left:791.1px;top:699.2px;font-size:16.28px;line-height:20px;letter-spacing:0.61px;font-weight:normal;font-style:normal;color:#fff;">Province - casi totali</div>
</body></html>
